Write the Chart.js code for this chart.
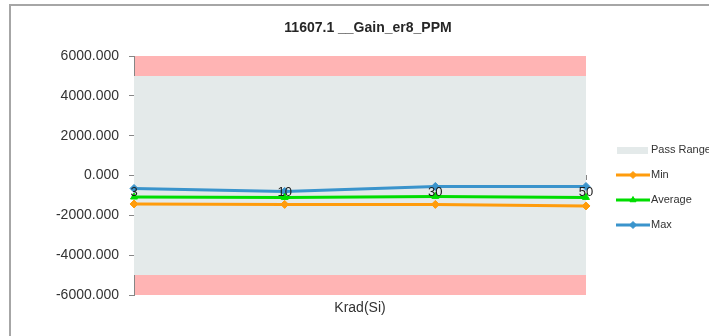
<!DOCTYPE html>
<html>
<head>
<meta charset="utf-8">
<script src="https://cdn.jsdelivr.net/npm/chart.js@4.4.1/dist/chart.umd.min.js"></script>
<style>
  html, body { margin: 0; padding: 0; background: #ffffff; }
  #wrap { position: relative; width: 709px; height: 336px; overflow: hidden; }
  #frame { position: absolute; left: 9px; top: 4px; width: 800px; height: 400px;
           border-left: 2px solid #a6a6a6; border-top: 2px solid #a6a6a6; box-sizing: border-box; }
  #chart { position: absolute; left: 0; top: 0; }
</style>
</head>
<body>
<div id="wrap">
  <div id="frame"></div>
  <canvas id="chart" width="709" height="336"></canvas>
</div>
<script>
// Radiation test: gain error (PPM) against total dose
const chartTitle = '11607.1 __Gain_er8_PPM';
const axisTitle = 'Krad(Si)';
const categories = ['3', '10', '30', '50'];
const minValues = [-1430, -1450, -1450, -1530];
const avgValues = [-1080, -1100, -1050, -1100];
const maxValues = [-650, -800, -550, -550];
const passUpper = [5000, 5000, 5000, 5000];
const passLower = [-5000, -5000, -5000, -5000];
const yTicks = [-6000, -4000, -2000, 0, 2000, 4000, 6000];

const FONT = "'Liberation Sans', Arial, sans-serif";
const AXIS_GREY = '#868686';
const TEXT = '#333333';
const PINK = '#ffb4b4';
const BAND = '#e4eaea';

// Pink fail zone behind everything inside the plot area
const failZone = {
  id: 'failZone',
  beforeDraw(chart) {
    const { ctx, chartArea: a } = chart;
    ctx.save();
    ctx.fillStyle = PINK;
    ctx.fillRect(a.left, a.top, a.right - a.left, a.bottom - a.top);
    ctx.restore();
  }
};

// Chart heading
const heading = {
  id: 'heading',
  afterDraw(chart) {
    const { ctx } = chart;
    ctx.save();
    ctx.font = 'bold 14px ' + FONT;
    ctx.fillStyle = '#262626';
    ctx.textAlign = 'center';
    ctx.textBaseline = 'middle';
    ctx.fillText(chartTitle, 368, 28);
    ctx.restore();
  }
};

// Side legend with line + marker samples
const sideLegend = {
  id: 'sideLegend',
  afterDraw(chart) {
    const { ctx } = chart;
    const x0 = 616, x1 = 650, tx = 651;
    const rows = [
      { label: 'Pass Range', y: 150, ds: null },
      { label: 'Min', y: 175, ds: chart.data.datasets[0] },
      { label: 'Average', y: 200, ds: chart.data.datasets[1] },
      { label: 'Max', y: 225, ds: chart.data.datasets[2] }
    ];
    ctx.save();
    ctx.font = '11px ' + FONT;
    ctx.textBaseline = 'middle';
    ctx.textAlign = 'left';
    rows.forEach(r => {
      if (!r.ds) {
        ctx.fillStyle = BAND;
        ctx.fillRect(x0 + 1, r.y - 3, 31, 7);
      } else {
        ctx.strokeStyle = r.ds.borderColor;
        ctx.fillStyle = r.ds.borderColor;
        ctx.lineWidth = 3;
        ctx.beginPath();
        ctx.moveTo(x0, r.y);
        ctx.lineTo(x1, r.y);
        ctx.stroke();
        ctx.lineWidth = 1;
        Chart.helpers.drawPoint(ctx, {
          pointStyle: r.ds.pointStyle,
          radius: 3.5,
          rotation: 0,
          borderWidth: 1
        }, (x0 + x1) / 2, r.y);
      }
      ctx.fillStyle = TEXT;
      ctx.fillText(r.label, tx, r.y);
    });
    ctx.restore();
  }
};

function lineSeries(label, data, color, style) {
  return {
    label, data,
    borderColor: color,
    backgroundColor: color,
    pointBackgroundColor: color,
    pointBorderColor: color,
    borderWidth: 3,
    pointStyle: style,
    pointRadius: 4,
    pointBorderWidth: 1,
    tension: 0,
    fill: false,
    order: 0
  };
}

const ctx = document.getElementById('chart').getContext('2d');
const chart = new Chart(ctx, {
  type: 'line',
  data: {
    labels: categories,
    datasets: [
      lineSeries('Min', minValues, '#ff9c0c', 'rectRot'),
      lineSeries('Average', avgValues, '#00dd00', 'triangle'),
      lineSeries('Max', maxValues, '#3a94cc', 'rectRot'),
      {
        label: 'Pass Range',
        data: passUpper,
        borderWidth: 0,
        pointRadius: 0,
        backgroundColor: BAND,
        borderColor: BAND,
        fill: 4,
        order: 5
      },
      {
        label: 'Pass Lower',
        data: passLower,
        borderWidth: 0,
        pointRadius: 0,
        borderColor: BAND,
        fill: false,
        order: 6
      }
    ]
  },
  options: {
    responsive: false,
    devicePixelRatio: 1,
    animation: false,
    events: [],
    layout: { padding: { top: 56, right: 123, left: 0, bottom: 0 } },
    plugins: {
      legend: { display: false },
      title: { display: false },
      tooltip: { enabled: false },
      filler: { drawTime: 'beforeDatasetsDraw' }
    },
    scales: {
      y: {
        position: 'left',
        min: -6000,
        max: 6000,
        afterFit(s) { s.width = 134; },
        afterBuildTicks(s) { s.ticks = yTicks.map(v => ({ value: v })); },
        ticks: {
          padding: 10,
          color: TEXT,
          font: { family: FONT, size: 14 },
          callback: v => Number(v).toFixed(3)
        },
        grid: { drawOnChartArea: false, drawTicks: true, tickLength: 5, color: AXIS_GREY },
        border: { display: true, color: AXIS_GREY, width: 1 }
      },
      x: {
        type: 'category',
        position: { y: 0 },
        offset: false,
        ticks: {
          z: 1,
          padding: 5,
          color: '#1a1a1a',
          font: { family: FONT, size: 13 },
          maxRotation: 0,
          autoSkip: false
        },
        grid: { drawOnChartArea: false, drawTicks: true, tickLength: 4, color: AXIS_GREY },
        border: { display: true, color: AXIS_GREY, width: 1 }
      },
      xt: {
        type: 'category',
        position: 'bottom',
        offset: false,
        afterFit(s) { s.height = 41; },
        ticks: { display: false },
        grid: { display: false },
        border: { display: false },
        title: {
          display: true,
          text: axisTitle,
          color: TEXT,
          font: { family: FONT, size: 14 },
          padding: { top: 0, bottom: 19.6 }
        }
      }
    }
  },
  plugins: [failZone, heading, sideLegend]
});
</script>
</body>
</html>
